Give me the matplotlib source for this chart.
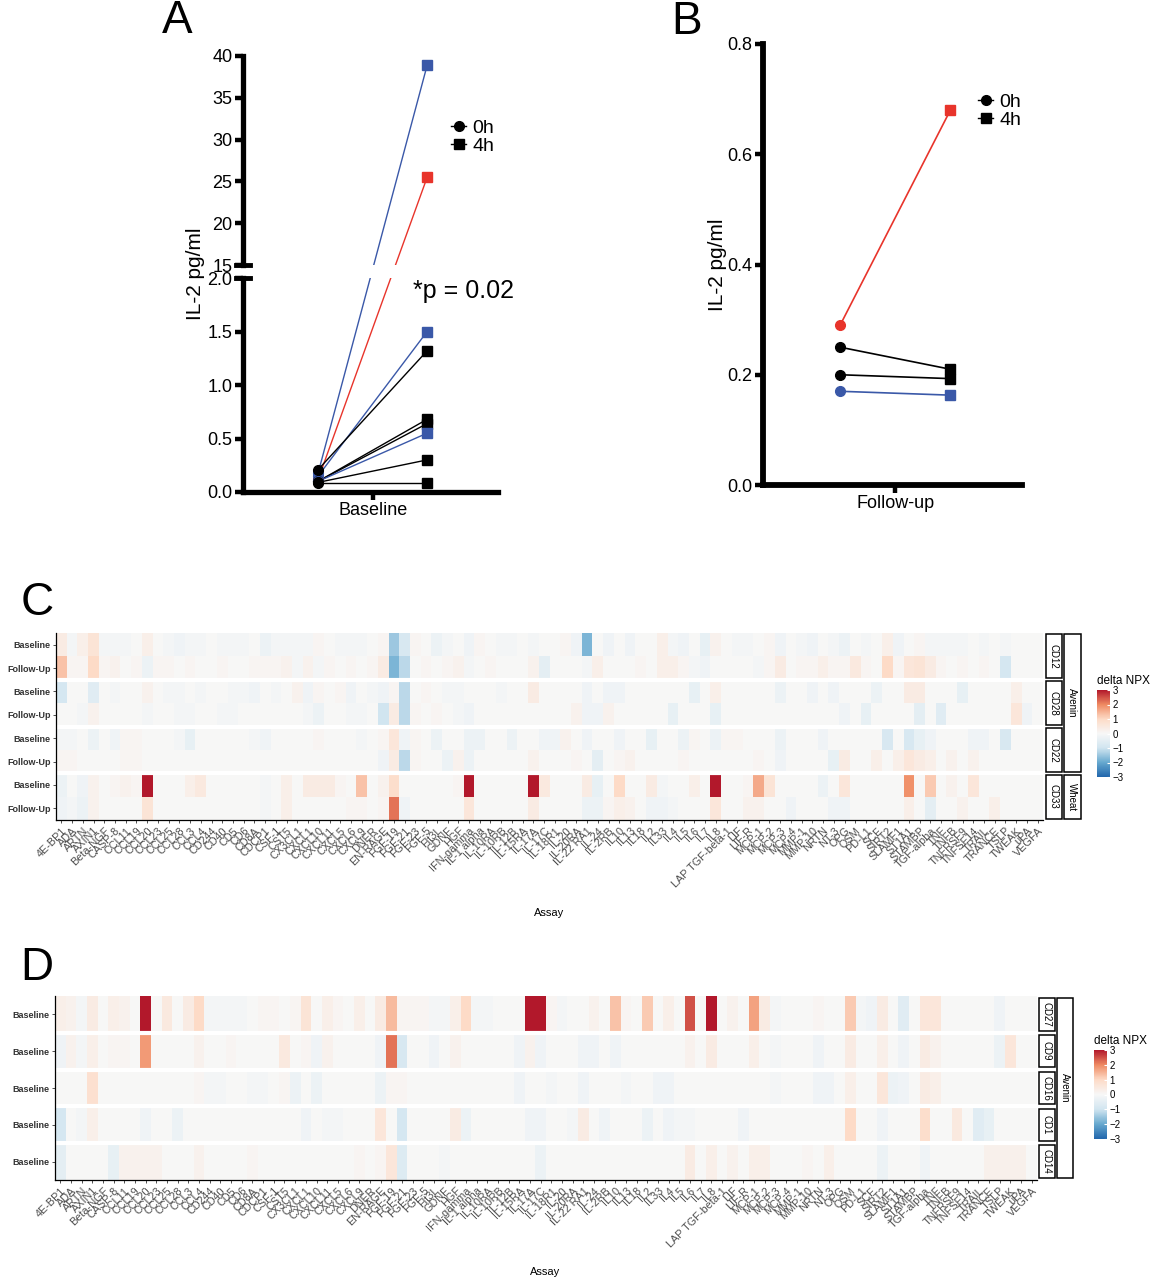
import numpy as np
import matplotlib
matplotlib.use('Agg')
import matplotlib.pyplot as plt
import matplotlib.transforms as mtransforms
from matplotlib.colors import LinearSegmentedColormap
from matplotlib.patches import Rectangle, ConnectionPatch
from matplotlib.lines import Line2D

plt.rcParams['font.family'] = ['Liberation Sans', 'DejaVu Sans']

W, H = 1150, 1280  # figure size in px (dpi 100)

# ---------------- panel A / B data ----------------
a_0h = [0.18, 0.12, 0.15, 0.21, 0.10, 0.10, 0.10, 0.09, 0.08]
a_4h = [38.9, 25.5, 1.50, 1.32, 0.68, 0.64, 0.55, 0.30, 0.08]
a_col = ['blue', 'red', 'blue', 'black', 'black', 'black', 'blue', 'black', 'black']

b_0h = [0.29, 0.25, 0.20, 0.17]
b_4h = [0.68, 0.21, 0.193, 0.163]
b_col = ['red', 'black', 'black', 'blue']

pal = {'blue': '#3a58a8', 'red': '#e8342b', 'black': 'black'}

# ---------------- heatmap data ----------------
assays = ['4E-BP1', 'ADA', 'ARTN', 'AXIN1', 'Beta-NGF', 'CASP-8', 'CCL11', 'CCL19', 'CCL20', 'CCL23',
          'CCL25', 'CCL28', 'CCL3', 'CCL4', 'CD244', 'CD40', 'CD5', 'CD6', 'CD8A', 'CDCP1',
          'CSF-1', 'CST5', 'CX3CL1', 'CXCL1', 'CXCL10', 'CXCL11', 'CXCL5', 'CXCL6', 'CXCL9', 'DNER',
          'EN-RAGE', 'FGF-19', 'FGF-21', 'FGF-23', 'FGF-5', 'Flt3L', 'GDNF', 'HGF', 'IFN-gamma', 'IL-1 alpha',
          'IL-10RA', 'IL-10RB', 'IL-12B', 'IL-15RA', 'IL-17A', 'IL-17C', 'IL-18R1', 'IL-20', 'IL-20RA', 'IL-22 RA1',
          'IL-24', 'IL-2RB', 'IL10', 'IL13', 'IL18', 'IL2', 'IL33', 'IL4', 'IL5', 'IL6',
          'IL7', 'IL8', 'LAP TGF-beta-1', 'LIF', 'LIF-R', 'MCP-1', 'MCP-2', 'MCP-3', 'MCP-4', 'MMP-1',
          'MMP-10', 'NRTN', 'NT-3', 'OPG', 'OSM', 'PD-L1', 'SCF', 'SIRT2', 'SLAMF1', 'ST1A1',
          'STAMBP', 'TGF-alpha', 'TNF', 'TNFB', 'TNFRSF9', 'TNFSF14', 'TRAIL', 'TRANCE', 'TSLP', 'TWEAK',
          'uPA', 'VEGFA']

# panel C: delta NPX, rows Baseline / Follow-Up per subject
c_cd12_base = [
    0.4, -0.1, 0.3, 0.7, -0.1, -0.1, -0.1, 0.0, 0.3, 0.0,
    -0.1, -0.2, -0.1, -0.1, 0.0, -0.1, -0.1, -0.1, 0.0, -0.3,
    -0.1, -0.1, -0.1, -0.1, 0.1, 0.0, -0.1, -0.1, -0.1, 0.0,
    0.1, -1.5, -0.8, 0.1, 0.0, -0.3, -0.1, 0.0, -0.2, 0.1,
    0.0, -0.1, -0.1, 0.0, -0.1, 0.0, 0.0, 0.1, -0.2, -1.8,
    0.0, -0.2, 0.0, -0.2, 0.0, 0.0, 0.3, -0.1, -0.2, 0.0,
    -0.4, 0.2, 0.0, -0.1, -0.1, 0.0, 0.1, -0.2, 0.0, -0.1,
    -0.2, 0.0, -0.1, -0.3, 0.0, -0.1, 0.0, 0.3, -0.2, 0.0,
    0.1, -0.1, -0.1, -0.1, -0.1, 0.0, -0.1, 0.0, -0.1, 0.0,
    0.0, 0.0]
c_cd12_fu = [
    1.3, 0.1, 0.1, 1.0, 0.1, 0.2, 0.0, 0.1, -0.3, 0.1,
    0.1, 0.0, 0.1, 0.0, 0.0, 0.1, 0.0, 0.0, 0.1, 0.1,
    0.1, 0.2, -0.1, 0.2, -0.1, 0.1, 0.0, 0.1, 0.0, 0.1,
    0.4, -1.8, -1.2, 0.0, 0.1, 0.0, 0.1, 0.2, -0.1, 0.0,
    0.1, 0.0, 0.0, 0.0, 0.2, -0.5, 0.0, 0.0, 0.0, -0.1,
    0.3, 0.0, 0.0, 0.0, 0.1, 0.0, 0.3, 0.3, 0.1, -0.1,
    -0.2, 0.0, 0.0, 0.0, 0.0, -0.1, 0.1, 0.4, 0.0, 0.1,
    0.1, 0.3, 0.1, 0.1, 0.5, 0.1, 0.0, 1.0, 0.1, 0.6,
    0.7, 0.4, 0.1, 0.0, 0.1, 0.0, 0.1, 0.0, -0.9, 0.0,
    0.0, 0.0]
c_cd28_base = [
    -0.9, 0.0, 0.0, -0.6, 0.0, -0.1, 0.0, 0.0, 0.2, 0.0,
    -0.1, -0.1, 0.0, -0.1, 0.0, 0.0, -0.1, -0.1, -0.2, 0.0,
    -0.1, 0.0, 0.2, -0.2, 0.1, 0.0, 0.1, -0.2, 0.0, -0.1,
    -0.2, 0.1, -1.2, 0.0, 0.1, 0.0, -0.1, -0.1, 0.0, 0.0,
    0.0, -0.1, 0.0, 0.0, 0.4, 0.0, 0.0, 0.0, 0.0, -0.2,
    0.0, -0.2, -0.2, 0.0, 0.0, 0.0, 0.0, 0.0, 0.0, -0.4,
    0.0, 0.3, 0.0, 0.0, 0.0, 0.0, 0.0, -0.3, 0.0, 0.0,
    -0.2, 0.0, -0.2, 0.0, 0.0, 0.0, -0.3, 0.0, 0.0, 0.4,
    0.4, 0.0, 0.0, 0.0, -0.4, 0.0, 0.0, 0.0, 0.0, 0.3,
    0.0, 0.0]
c_cd28_fu = [
    0.0, 0.0, -0.1, 0.2, 0.0, 0.0, 0.0, 0.0, -0.1, 0.0,
    0.0, -0.1, -0.1, 0.0, 0.0, -0.1, -0.1, 0.0, 0.0, 0.0,
    0.0, 0.0, 0.0, -0.1, -0.3, 0.0, 0.0, -0.1, -0.1, 0.0,
    -1.0, 0.4, -1.2, 0.1, 0.0, 0.1, 0.0, -0.1, -0.2, 0.0,
    0.0, 0.0, 0.0, 0.0, 0.0, 0.0, 0.0, 0.0, 0.2, -0.2,
    -0.2, 0.2, 0.0, 0.0, 0.0, 0.0, 0.0, -0.4, 0.0, 0.0,
    0.0, -0.4, 0.0, 0.0, 0.0, 0.0, 0.0, 0.0, 0.0, 0.0,
    0.0, 0.0, 0.0, -0.2, 0.0, -0.4, 0.0, 0.0, 0.0, 0.0,
    -0.5, 0.0, -0.6, 0.0, 0.0, 0.0, 0.0, 0.0, 0.0, 0.6,
    -0.2, 0.0]
c_cd22_base = [
    -0.1, -0.1, 0.0, -0.3, 0.0, -0.2, 0.1, 0.1, 0.0, 0.0,
    0.0, -0.1, -0.4, 0.0, 0.0, 0.0, 0.0, 0.0, -0.1, -0.2,
    0.0, 0.0, 0.0, 0.0, 0.1, 0.0, 0.0, 0.0, -0.1, 0.0,
    0.1, 0.6, -0.2, 0.1, 0.0, -0.3, 0.0, 0.0, -0.3, -0.3,
    0.0, 0.0, -0.3, 0.0, 0.0, -0.2, -0.2, 0.2, 0.0, -0.2,
    0.0, 0.0, -0.2, 0.0, 0.0, -0.4, 0.0, 0.0, -0.3, 0.1,
    0.0, -0.3, 0.1, 0.1, 0.0, 0.0, 0.0, -0.3, 0.0, 0.0,
    0.0, -0.2, 0.0, 0.0, 0.0, 0.0, 0.0, -0.8, 0.0, -0.8,
    -0.4, -0.2, 0.0, 0.0, 0.0, -0.2, -0.2, 0.0, -0.8, 0.0,
    0.0, 0.0]
c_cd22_fu = [
    0.1, 0.1, 0.0, 0.0, 0.0, 0.0, 0.1, 0.1, 0.0, 0.0,
    0.0, 0.0, 0.0, 0.0, 0.0, 0.0, 0.0, 0.0, 0.0, 0.0,
    0.0, 0.0, 0.0, 0.0, 0.0, 0.0, 0.0, 0.0, 0.0, 0.0,
    -0.2, 0.4, -1.2, 0.1, 0.0, 0.0, -0.3, 0.2, -0.3, 0.0,
    0.0, 0.0, 0.0, 0.0, 0.2, 0.0, 0.0, 0.0, 0.1, 0.0,
    -0.5, 0.0, 0.1, 0.2, 0.0, 0.0, 0.0, 0.0, 0.1, 0.0,
    0.0, 0.0, 0.0, 0.0, 0.0, 0.1, 0.0, -0.2, 0.0, 0.0,
    0.0, 0.0, -0.4, 0.4, 0.0, 0.0, 0.3, 0.0, 0.3, 0.6,
    0.4, 0.3, 0.0, 0.2, 0.0, 0.2, 0.0, 0.0, 0.0, 0.0,
    0.0, 0.0]
c_cd33_base = [
    -0.3, 0.0, -0.2, 0.2, 0.0, 0.1, 0.2, 0.1, 3.0, 0.0,
    0.0, 0.0, 0.3, 0.5, 0.0, 0.0, 0.0, 0.0, 0.0, -0.1,
    0.0, 0.3, 0.0, 0.4, 0.4, 0.4, 0.1, 0.0, 1.3, 0.0,
    0.2, 0.9, 0.0, 0.0, 0.0, 0.0, 0.0, 0.1, 3.0, 0.0,
    0.0, 0.0, 0.0, 0.0, 3.0, 0.5, 0.0, 0.0, 0.0, 0.4,
    -0.4, 0.0, 1.0, 0.0, 0.0, 0.4, -0.1, 0.0, 0.0, 0.3,
    0.0, 3.0, 0.0, 0.0, 0.1, 1.6, 0.7, 0.0, 0.0, 0.0,
    0.0, -0.3, 0.0, 0.6, 0.0, 0.0, 0.0, 0.0, 0.0, 1.9,
    0.0, 1.2, 0.0, 0.2, 0.0, 0.6, 0.0, 0.0, 0.0, 0.0,
    0.0, 0.0]
c_cd33_fu = [
    -0.2, -0.1, -0.3, 0.2, 0.0, 0.0, 0.0, 0.0, 0.7, 0.0,
    0.0, 0.0, 0.0, 0.0, 0.0, 0.0, 0.0, 0.0, 0.0, -0.1,
    0.0, 0.3, 0.0, 0.0, 0.0, 0.0, 0.0, 0.1, 0.1, 0.0,
    0.1, 2.2, -0.2, 0.0, 0.0, 0.0, 0.0, 0.0, 0.6, 0.0,
    0.0, 0.0, 0.0, 0.0, 0.4, 0.0, 0.0, 0.0, 0.0, -0.3,
    -0.3, 0.1, 0.3, 0.2, 0.0, -0.2, -0.2, -0.1, 0.0, 0.0,
    0.0, 0.6, 0.0, 0.0, 0.2, 0.2, 0.0, 0.0, -0.2, 0.0,
    0.0, 0.0, -0.2, -0.2, 0.0, 0.0, 0.0, 0.0, 0.0, 0.3,
    0.0, -0.5, 0.0, 0.0, 0.2, 0.0, 0.0, 0.3, 0.0, 0.0,
    0.0, 0.0]

# panel D: delta NPX, Baseline only
d_cd27 = [
    0.3, 0.2, -0.1, 0.4, 0.0, 0.3, 0.2, 0.0, 3.0, 0.0,
    0.5, 0.0, 0.4, 1.0, -0.1, -0.1, -0.1, -0.1, 0.0, 0.1,
    0.1, 0.0, 0.1, 0.7, 0.0, 0.3, 0.1, 0.0, 0.3, 0.0,
    0.4, 1.4, 0.1, 0.1, 0.1, -0.1, -0.1, 0.3, 1.0, -0.1,
    -0.1, 0.0, 0.0, 0.0, 3.0, 3.0, 0.1, -0.1, 0.0, 0.0,
    0.2, 0.0, 1.3, 0.1, 0.0, 1.2, 0.0, 0.3, 0.0, 2.5,
    0.0, 3.0, 0.0, 0.2, 0.0, 1.7, 0.4, -0.1, 0.0, 0.0,
    0.0, 0.1, 0.0, 0.0, 1.2, -0.1, -0.2, 0.4, 0.0, -0.6,
    0.0, 0.6, 0.6, 0.0, 0.0, 0.0, 0.0, 0.0, -0.2, 0.0,
    0.0, 0.0]
d_cd9 = [
    -0.2, 0.2, -0.1, 0.3, 0.0, 0.1, 0.1, 0.0, 1.8, 0.0,
    0.0, 0.0, 0.0, 0.2, 0.0, 0.0, 0.1, 0.0, 0.0, 0.0,
    0.0, 0.5, 0.0, 0.1, -0.2, 0.2, 0.0, 0.0, 0.0, 0.0,
    -0.2, 2.2, -0.8, 0.0, 0.0, -0.2, 0.0, 0.2, 0.0, 0.0,
    0.0, 0.0, 0.0, -0.2, 0.2, -0.2, 0.0, 0.0, 0.0, -0.2,
    -0.2, 0.0, -0.2, 0.0, 0.0, 0.0, 0.0, 0.0, 0.0, 0.2,
    0.0, 0.4, 0.0, 0.0, 0.0, 0.3, 0.0, -0.1, 0.0, 0.0,
    0.0, -0.2, 0.0, 0.0, 0.4, 0.0, 0.0, 0.3, 0.0, -0.2,
    0.0, 0.4, 0.2, 0.0, 0.0, 0.0, 0.0, 0.0, -0.3, 0.6,
    0.0, 0.0]
d_cd16 = [
    0.0, 0.0, 0.0, 0.8, 0.0, 0.0, 0.0, 0.0, 0.0, 0.0,
    0.0, 0.0, 0.0, 0.1, -0.1, -0.1, 0.0, 0.0, -0.1, -0.1,
    0.0, 0.1, -0.3, 0.0, -0.3, 0.0, 0.0, 0.0, 0.0, 0.0,
    -0.3, 0.1, 0.1, 0.0, 0.0, 0.0, 0.0, 0.0, 0.0, 0.0,
    0.0, 0.0, 0.0, -0.2, 0.0, 0.0, -0.1, 0.0, 0.0, -0.2,
    0.0, 0.0, 0.0, -0.1, 0.0, 0.0, -0.2, -0.2, 0.0, 0.0,
    0.0, 0.0, 0.0, 0.0, 0.0, 0.0, 0.0, -0.1, 0.0, 0.0,
    0.0, -0.2, -0.2, 0.0, 0.3, 0.0, 0.0, 0.6, -0.3, -0.2,
    0.0, 0.4, 0.3, 0.0, 0.0, 0.0, 0.0, 0.0, 0.0, 0.0,
    0.0, 0.0]
d_cd1 = [
    -0.9, 0.0, -0.1, 0.3, 0.0, 0.0, 0.0, 0.0, -0.2, 0.0,
    0.0, -0.3, 0.0, 0.0, 0.0, 0.0, 0.0, 0.0, 0.0, 0.0,
    0.0, 0.0, 0.0, -0.2, 0.0, -0.1, -0.1, 0.0, 0.0, 0.0,
    0.6, 0.0, -0.9, 0.0, 0.0, 0.0, 0.0, 0.4, -0.3, 0.0,
    0.0, 0.0, 0.0, 0.0, -0.2, -0.2, 0.0, 0.0, -0.1, 0.4,
    0.0, -0.2, 0.0, 0.0, 0.0, -0.3, 0.0, -0.2, -0.1, -0.1,
    0.0, 0.0, 0.0, 0.0, -0.2, 0.0, 0.0, 0.0, 0.0, 0.0,
    0.0, 0.0, 0.0, 0.0, 1.0, 0.0, 0.0, -0.2, 0.0, 0.0,
    0.0, 0.9, 0.0, 0.0, 0.5, 0.0, -0.6, -0.4, 0.0, 0.0,
    0.0, 0.0]
d_cd14 = [
    -0.5, 0.0, 0.0, 0.0, 0.0, -0.4, 0.2, 0.2, 0.2, 0.2,
    0.0, 0.0, 0.0, 0.2, 0.0, 0.0, 0.0, 0.0, 0.1, 0.0,
    0.0, 0.0, 0.0, 0.0, 0.0, 0.0, 0.0, 0.0, 0.1, 0.0,
    0.1, 0.6, -0.7, 0.0, 0.0, 0.0, -0.1, 0.0, 0.0, 0.0,
    0.0, 0.0, 0.0, 0.0, 0.0, -0.3, 0.0, 0.0, 0.0, 0.0,
    0.0, 0.0, 0.0, 0.0, 0.0, 0.0, 0.0, 0.0, 0.0, 0.4,
    0.0, 0.3, 0.0, 0.2, 0.0, 0.3, 0.3, 0.0, 0.0, 0.0,
    0.1, 0.0, 0.3, 0.0, 0.0, 0.0, 0.0, -0.3, 0.0, 0.0,
    0.0, -0.2, 0.0, 0.0, 0.0, 0.0, 0.0, 0.25, 0.25, 0.25,
    0.25, 0.0]

c_subjects = ['CD12', 'CD28', 'CD22', 'CD33']
c_groups = [('Avenin', 0, 3), ('Wheat', 3, 4)]
c_rowlab = ['Baseline', 'Follow-Up'] * 4
d_subjects = ['CD27', 'CD9', 'CD16', 'CD1', 'CD14']
d_groups = [('Avenin', 0, 5)]
d_rowlab = ['Baseline'] * 5

cmap = LinearSegmentedColormap.from_list(
    'rdbu7', ['#2166AC', '#67A9CF', '#D1E5F0', '#F7F7F7', '#FDDBC7', '#EF8A62', '#B2182B'])


def frac(x0, y0, x1, y1):
    # px box -> figure fraction rect
    return [x0 / W, 1 - y1 / H, (x1 - x0) / W, (y1 - y0) / H]


def prism(ax, lw=3.8):
    for s in ['top', 'right']:
        ax.spines[s].set_visible(False)
    ax.spines['left'].set_linewidth(lw)
    ax.spines['bottom'].set_linewidth(lw)
    ax.tick_params(width=3.2, length=6, labelsize=13, pad=1.5)
    ax.patch.set_alpha(0)


def legend_0h4h(x, y):
    hs = [Line2D([0], [0], color='k', lw=1, marker='o', ms=7),
          Line2D([0], [0], color='k', lw=1, marker='s', ms=7)]
    fig.legend(hs, ['0h', '4h'], loc='center left', bbox_to_anchor=(x / W, 1 - y / H),
               frameon=False, fontsize=14, handlelength=0.8, handletextpad=0.3,
               labelspacing=0.05, borderaxespad=0)


def heatmap(box, rows, rowlab, subjects, groups, inner, outer, cbox, xlab_xy):
    mat = np.array(rows)
    nr, nc = mat.shape
    ax = fig.add_axes(frac(*box))
    m = ax.pcolormesh(np.arange(nc + 1), np.arange(nr + 1), mat, cmap=cmap, vmin=-3, vmax=3)
    ax.set_xlim(0, nc)
    ax.set_ylim(nr, 0)
    ax.set_xticks(np.arange(nc) + 0.5)
    ax.set_xticklabels(assays, rotation=45, ha='right', va='top', rotation_mode='anchor',
                       fontsize=7.8, color='#4d4d4d')
    ax.set_yticks(np.arange(nr) + 0.5)
    ax.set_yticklabels(rowlab, fontsize=6.5, fontweight='bold', color='#333333')
    ax.tick_params(length=2.5, width=0.6, color='#333333', pad=1.5)
    for s in ['top', 'right']:
        ax.spines[s].set_visible(False)
    for s in ['left', 'bottom']:
        ax.spines[s].set_linewidth(0.9)
    per = nr // len(subjects)
    for k in range(1, len(subjects)):
        ax.axhline(k * per, color='white', lw=3)
    tr = mtransforms.blended_transform_factory(ax.transAxes, ax.transData)
    for k, name in enumerate(subjects):
        y0 = k * per
        ax.add_patch(Rectangle((inner[0], y0 + 0.06), inner[1] - inner[0], per - 0.12, transform=tr,
                               fc='white', ec='black', lw=1.1, clip_on=False))
        ax.text(sum(inner) / 2, y0 + per / 2, name, transform=tr, rotation=270,
                ha='center', va='center', fontsize=7)
    for name, f0, f1 in groups:
        y0, y1 = f0 * per, f1 * per
        ax.add_patch(Rectangle((outer[0], y0 + 0.06), outer[1] - outer[0], y1 - y0 - 0.12, transform=tr,
                               fc='white', ec='black', lw=1.1, clip_on=False))
        ax.text(sum(outer) / 2, (y0 + y1) / 2, name, transform=tr, rotation=270,
                ha='center', va='center', fontsize=7)
    cax = fig.add_axes(frac(*cbox))
    cb = fig.colorbar(m, cax=cax, ticks=[-3, -2, -1, 0, 1, 2, 3])
    cb.outline.set_visible(False)
    cax.tick_params(length=2.5, width=0.8, color='white', direction='in', labelsize=7, pad=2)
    cax.set_title('delta NPX', loc='left', fontsize=8.5, pad=4)
    fig.text(xlab_xy[0] / W, 1 - xlab_xy[1] / H, 'Assay', ha='center', va='center', fontsize=8)
    return ax


fig = plt.figure(figsize=(W / 100, H / 100), dpi=100)

# ---------------- panel A (broken axis) ----------------
axu = fig.add_axes(frac(243, 56, 498, 265))
axl = fig.add_axes(frac(243, 278, 498, 492))
for ax in (axu, axl):
    prism(ax)
    ax.set_xlim(-0.69, 1.65)
axu.spines['bottom'].set_visible(False)
axu.tick_params(axis='x', bottom=False, labelbottom=False)
axu.set_ylim(15, 40)
axu.set_yticks([15, 20, 25, 30, 35, 40])
axl.set_ylim(0, 2.0)
axl.set_yticks([0.0, 0.5, 1.0, 1.5, 2.0])
axl.set_yticklabels(['0.0', '0.5', '1.0', '1.5', '2.0'])
axl.set_xticks([0.5])
axl.set_xticklabels(['Baseline'])
# break marks
axl.plot([-0.028, 0.028], [1, 1], transform=axl.transAxes, color='k', lw=3.5, clip_on=False)
axu.plot([-0.028, 0.028], [0, 0], transform=axu.transAxes, color='k', lw=3.5, clip_on=False)

for y0, y1, c in zip(a_0h, a_4h, a_col):
    col = pal[c]
    if y1 > 2.0:
        con = ConnectionPatch(xyA=(0, y0), coordsA=axl.transData, xyB=(1, y1), coordsB=axu.transData,
                              color=col, lw=1.0)
        con.set_zorder(-2)
        fig.add_artist(con)
        axu.plot(1, y1, 's', color=col, ms=7, clip_on=False, zorder=4)
    else:
        axl.plot([0, 1], [y0, y1], '-', color=col, lw=1.0, zorder=2)
        axl.plot(1, y1, 's', color=col, ms=7, clip_on=False, zorder=4)
for y0, c in zip(a_0h, a_col):
    axl.plot(0, y0, 'o', color=pal[c], ms=7, clip_on=False, zorder=5)

# gap of the axis break
pu, pl = axu.get_position(), axl.get_position()
fig.add_artist(Rectangle((pl.x0 + 0.004, pl.y1), pl.width, pu.y0 - pl.y1, transform=fig.transFigure,
                         fc='white', ec='none', zorder=-1))

axl.set_ylabel('IL-2 pg/ml', fontsize=15, y=1.02, labelpad=2)
fig.text(413 / W, 1 - 291 / H, '*p = 0.02', fontsize=18, ha='left', va='center')
legend_0h4h(443, 137)

# ---------------- panel B ----------------
axb = fig.add_axes(frac(763, 44, 1022, 485))
prism(axb, lw=4.2)
axb.set_xlim(-0.7, 1.65)
axb.set_ylim(0, 0.8)
axb.set_yticks([0.0, 0.2, 0.4, 0.6, 0.8])
axb.set_yticklabels(['0.0', '0.2', '0.4', '0.6', '0.8'])
axb.set_xticks([0.5])
axb.set_xticklabels(['Follow-up'])
for y0, y1, c in zip(b_0h, b_4h, b_col):
    col = pal[c]
    axb.plot([0, 1], [y0, y1], '-', color=col, lw=1.2, zorder=2)
    axb.plot(0, y0, 'o', color=col, ms=7, zorder=4)
    axb.plot(1, y1, 's', color=col, ms=7, zorder=4)
axb.set_ylabel('IL-2 pg/ml', fontsize=15, labelpad=0)
legend_0h4h(970, 111)

# ---------------- panel C / D heatmaps ----------------
heatmap((56, 633, 1043, 820),
        [c_cd12_base, c_cd12_fu, c_cd28_base, c_cd28_fu, c_cd22_base, c_cd22_fu, c_cd33_base, c_cd33_fu],
        c_rowlab, c_subjects, c_groups, (1.003, 1.019), (1.021, 1.038),
        (1097, 690, 1110, 777), (549, 913))
heatmap((55, 996, 1037, 1180),
        [d_cd27, d_cd9, d_cd16, d_cd1, d_cd14],
        d_rowlab, d_subjects, d_groups, (1.002, 1.018), (1.020, 1.037),
        (1094, 1050, 1107, 1139), (545, 1272))

# panel letters
for lab, x, y in [('A', 177, 21), ('B', 687, 22), ('C', 37, 603), ('D', 37, 968)]:
    fig.text(x / W, 1 - y / H, lab, fontsize=33, ha='center', va='center')

fig.savefig('out.png', dpi=100)
